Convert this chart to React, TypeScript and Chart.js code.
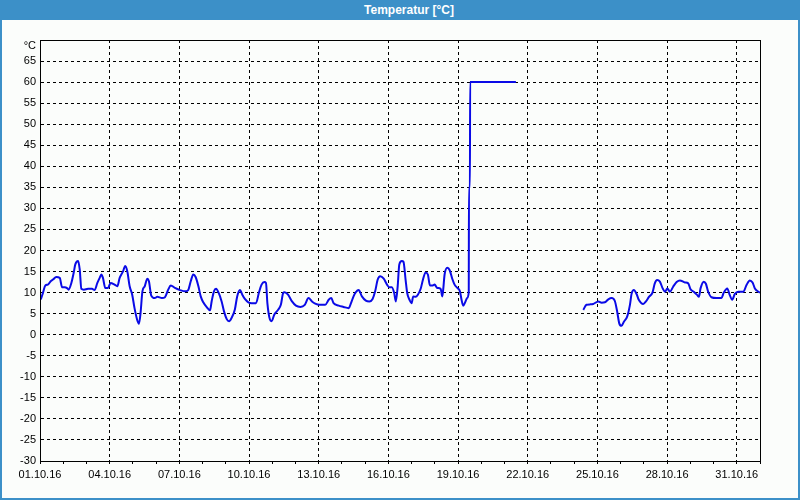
import React, { useEffect, useRef } from 'react';
import { Chart, registerables } from 'chart.js';

Chart.register(...registerables);

const TITLE = 'Temperatur [°C]';
const UNIT = '°C';

// tick labels of the x axis, one per 3 days (day offsets 0, 3, ..., 30)
const xTickLabels = [
  '01.10.16', '04.10.16', '07.10.16', '10.10.16', '13.10.16', '16.10.16',
  '19.10.16', '22.10.16', '25.10.16', '28.10.16', '31.10.16',
];

// time in days since 01.10.16 00:00
const dayOffsets: number[] = [
  0.0, 0.04, 0.13, 0.23, 0.34, 0.46, 0.56, 0.7, 0.85, 0.95, 1.06, 1.18, 1.23, 1.35, 1.45, 1.52, 1.64, 1.71, 1.78, 1.89,
  2.07, 2.24, 2.35, 2.47, 2.57, 2.64, 2.71, 2.81, 2.93, 3.04, 3.21, 3.33, 3.43, 3.57, 3.67, 3.76, 3.86, 3.97, 4.07, 4.18,
  4.26, 4.33, 4.41, 4.51, 4.62, 4.69, 4.79, 4.94, 5.05, 5.25,
  5.38, 5.52, 5.63, 5.81, 6.03, 6.24, 6.38, 6.49, 6.6, 6.7, 6.82, 6.92, 7.03, 7.17, 7.32, 7.39, 7.49, 7.58, 7.68, 7.82,
  7.92, 8.04, 8.14, 8.25, 8.39, 8.49, 8.61, 8.71, 8.82, 8.97, 9.11, 9.3, 9.43, 9.54, 9.66, 9.73, 9.79, 9.9, 9.97, 10.09,
  10.26, 10.37, 10.47,
  10.53, 10.68, 10.85, 11.02, 11.21, 11.4, 11.56, 11.71, 11.85, 12.02, 12.28, 12.43, 12.54, 12.64, 12.86, 13.07, 13.29,
  13.39, 13.5, 13.6, 13.72, 13.86, 14.03, 14.18, 14.32, 14.43, 14.54, 14.65, 14.8, 14.94, 15.04, 15.15, 15.25, 15.32,
  15.4, 15.47, 15.58, 15.65, 15.74, 15.81, 15.91, 16.0, 16.07, 16.17, 16.27, 16.39, 16.49, 16.6, 16.7, 16.79, 16.89,
  16.99, 17.1, 17.25, 17.32, 17.36, 17.42, 17.54, 17.64, 17.75, 17.85, 17.97, 18.08, 18.15, 18.22, 18.32, 18.39, 18.46,
  18.47, 18.51, 18.52, 20.49,
  22.0,
  23.39, 23.53, 23.68, 23.82, 24.04, 24.18, 24.32, 24.47, 24.61, 24.75, 24.85, 24.94, 25.04, 25.14, 25.28, 25.4, 25.47,
  25.57, 25.69, 25.78, 25.97, 26.09, 26.22, 26.37, 26.47, 26.57, 26.69, 26.81, 26.91, 27.01, 27.12, 27.26, 27.41, 27.55,
  27.77, 27.91, 28.01, 28.15, 28.3, 28.37, 28.44, 28.58, 28.67, 28.77, 28.91, 29.13, 29.34, 29.44, 29.59, 29.7, 29.8,
  29.92, 30.06, 30.28, 30.42, 30.56, 30.68, 30.78, 30.93, 31.0,
];

// temperature in °C (null = no data)
const temperatures: (number | null)[] = [
  8.3, 8.5, 10, 11.7, 11.9, 12.7, 13.1, 13.7, 13.5, 11.3, 11.3, 11, 10.7, 12.3, 14.7, 16.7, 17.5, 15.5, 10.9, 10.7,
  10.9, 10.9, 10.6, 12.3, 13.5, 14.3, 13.5, 11.1, 11.1, 12.3, 11.9, 11.5, 13.5, 15, 16.3, 15, 11.5, 9.5, 6.3, 3.6,
  2.6, 5.2, 10.3, 11.5, 13.3, 12.7, 9.3, 8.7, 9, 8.7,
  8.9, 10.7, 11.7, 11.1, 10.6, 10.3, 10.6, 12.7, 14.3, 13.7, 11.5, 9.1, 7.7, 6.6, 5.8, 7.9, 10.3, 10.9, 10.1, 7.9,
  5.6, 3.7, 3.2, 4, 6, 9.1, 10.6, 9.5, 8.5, 7.7, 7.5, 7.5, 10.1, 11.9, 12.5, 12.3, 7.5, 3.6, 3.2, 4.8,
  6, 7.1, 9.9,
  10.1, 9.5, 7.9, 6.9, 6.6, 7.1, 8.7, 7.9, 7.4, 7.1, 7.1, 8.3, 8.7, 7.5, 6.9, 6.6, 6.3,
  7.5, 9.1, 10.1, 10.6, 9.1, 8.1, 7.9, 8.5, 10.3, 13.1, 13.9, 13.3, 11.9, 11.3, 11.3, 9.9, 7.9,
  11.5, 16.7, 17.5, 17.3, 13.1, 9.9, 8.3, 7.5, 9.1, 9, 9.5, 10.9, 13.1, 14.8, 14.3, 11.7, 11.7,
  11.9, 11.1, 10.9, 9.1, 10.7, 14.3, 15.9, 15.3, 13.3, 11.9, 11.1, 10.3, 8.3, 6.9, 7.9, 8.7, 10.1,
  35, 35, 60, 60,
  null,
  5.9, 7.1, 7.2, 7.3, 7.9, 7.6, 7.7, 8.4, 8.7, 8, 5.5, 2.7, 2.1, 3.1, 4.3, 7.1, 9.7,
  10.6, 9.6, 8.3, 7.3, 7.9, 9, 10, 12.2, 13, 12.6, 11, 10.2, 11, 10.2, 11.4, 12.5, 12.9,
  12.4, 12.2, 10.8, 10.2, 9.4, 9, 11, 12.6, 12.1, 10.2, 8.9, 8.7, 8.7, 10, 11, 9.4, 8.3,
  9.7, 10.2, 10.2, 11.8, 12.9, 12.4, 11, 10.2, 10.0,
];

const BLUE = '#3c90c8';
const BG = '#fbfdfb';
const FONT = "'Liberation Sans', Arial, sans-serif";

export default function App() {
  const canvasRef = useRef<HTMLCanvasElement | null>(null);

  useEffect(() => {
    if (!canvasRef.current) return;
    const points = dayOffsets.map((d, i) => ({ x: d, y: temperatures[i] }));

    const framePlugin = {
      id: 'frame',
      beforeDraw(chart: any) {
        const c = chart.ctx;
        c.save();
        c.fillStyle = BG;
        c.fillRect(0, 0, chart.width, chart.height);
        c.restore();
      },
      afterDraw(chart: any) {
        const c = chart.ctx;
        const a = chart.chartArea;
        c.save();
        c.strokeStyle = '#000';
        c.lineWidth = 1;
        c.setLineDash([]);
        c.strokeRect(Math.round(a.left) + 0.5, Math.round(a.top) + 0.5,
          Math.round(a.right - a.left), Math.round(a.bottom - a.top));
        c.fillStyle = '#000';
        c.font = `11px ${FONT}`;
        c.textAlign = 'right';
        c.textBaseline = 'middle';
        c.fillText(UNIT, a.left - 4, a.top + 6);
        c.restore();
      },
    };

    const chart = new Chart(canvasRef.current, {
      type: 'line',
      data: {
        datasets: [
          {
            data: points as any,
            borderColor: '#0a0ae6',
            borderWidth: 2,
            pointRadius: 0,
            cubicInterpolationMode: 'monotone',
            spanGaps: false,
            fill: false,
          },
        ],
      },
      options: {
        animation: false,
        responsive: false,
        devicePixelRatio: 1,
        layout: { padding: { left: 0, top: 40, right: 40, bottom: 0 } },
        plugins: { legend: { display: false }, tooltip: { enabled: false }, title: { display: false } },
        scales: {
          x: {
            type: 'linear',
            min: 0,
            max: 31,
            afterFit: (s: any) => { s.height = 39; },
            ticks: {
              stepSize: 1,
              autoSkip: false,
              maxRotation: 0,
              padding: 4,
              color: '#000',
              font: { family: FONT, size: 11 },
              callback: (v: any) => {
                const n = Number(v);
                return n % 3 === 0 ? (xTickLabels[n / 3] ?? '') : '';
              },
            },
            grid: {
              color: (ctx: any) => (ctx.tick && ctx.tick.value % 3 === 0 ? '#000' : 'rgba(0,0,0,0)'),
              tickColor: '#000',
              tickLength: 3,
              tickBorderDash: [],
              drawTicks: true,
            },
            border: { display: true, color: '#000', width: 1, dash: [3, 3] },
          },
          y: {
            type: 'linear',
            min: -30,
            max: 70,
            afterFit: (s: any) => { s.width = 40; },
            ticks: {
              stepSize: 5,
              autoSkip: false,
              padding: 4,
              color: '#000',
              font: { family: FONT, size: 11 },
              callback: (v: any) => (Number(v) === 70 ? '' : String(v)),
            },
            grid: { color: '#000', drawTicks: false },
            border: { display: true, color: '#000', width: 1, dash: [3, 3] },
          },
        },
      },
      plugins: [framePlugin],
    });
    return () => chart.destroy();
  }, []);

  return (
    <div style={{ position: 'fixed', left: 0, top: 0, width: 800, height: 500, background: BG }}>
      <canvas ref={canvasRef} width={800} height={500} style={{ position: 'absolute', left: 0, top: 0 }} />
      <div
        style={{
          position: 'absolute', left: 0, top: 0, width: 800, height: 500, boxSizing: 'border-box',
          border: `2px solid ${BLUE}`, pointerEvents: 'none',
        }}
      />
      <div
        style={{
          position: 'absolute', left: 0, top: 0, width: 800, height: 20, boxSizing: 'border-box',
          background: BLUE, color: '#fff', textAlign: 'center', paddingLeft: 18,
          font: `bold 12px ${FONT}`, lineHeight: '20px',
        }}
      >
        {TITLE}
      </div>
    </div>
  );
}
